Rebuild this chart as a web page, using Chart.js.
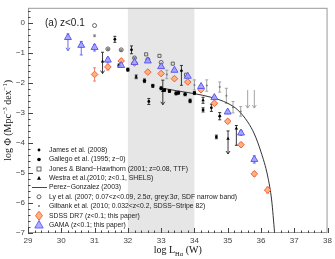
<!DOCTYPE html>
<html>
<head>
<meta charset="utf-8">
<script src="https://cdn.jsdelivr.net/npm/chart.js@4.4.1/dist/chart.umd.min.js"></script>
<style>
  html, body { margin: 0; padding: 0; background: #fff; }
</style>
</head>
<body>
<canvas id="lf" width="335" height="259"></canvas>
<script>
// axis ticks
const xTicks = [29, 30, 31, 32, 33, 34, 35, 36, 37, 38];
const yTicks = [0, -1, -2, -3, -4, -5, -6, -7];
const bandRange = [32, 34];

// GAMA (blue triangles)
const gamaX = [30.2, 30.6, 31.0, 31.4, 31.8, 32.2, 32.6, 33.0, 33.4, 33.8, 34.2, 34.6, 35.0, 35.4, 35.8];
const gamaY = [-0.49, -0.75, -0.82, -1.24, -1.42, -1.32, -1.27, -1.46, -1.58, -1.78, -2.12, -2.49, -2.97, -3.67, -4.55];
const gamaUp = [0.12, 0.13, 0.1, 0.07, 0.05, 0.04, 0.04, 0.04, 0.04, 0.04, 0.04, 0.05, 0.06, 0.08, 0.12];
const gamaDn = [0.44, 0.32, 0.12, 0.07, 0.05, 0.04, 0.04, 0.04, 0.04, 0.04, 0.04, 0.05, 0.06, 0.08, 0.12];
const gamaArrow = [1, 0, 0, 0, 0, 0, 0, 0, 0, 0, 0, 0, 0, 0, 0];

// SDSS DR7 (orange diamonds)
const sdssX = [31.0, 31.4, 31.8, 32.2, 32.6, 33.0, 33.4, 33.8, 34.2, 34.6, 35.0, 35.4, 35.8, 36.2];
const sdssY = [-1.72, -1.47, -1.27, -1.34, -1.64, -1.69, -1.86, -1.97, -2.23, -2.68, -3.28, -4.06, -5.03, -5.57];
const sdssErr = [0.22, 0.1, 0.06, 0.05, 0.05, 0.05, 0.05, 0.05, 0.05, 0.05, 0.06, 0.07, 0.08, 0.1];

// Ly et al. (2007) open circles and grey 3-sigma limits
const lyX = [31.0, 31.4, 31.8, 32.2, 32.6, 33.0];
const lyY = [-0.09, -0.87, -0.9, -1.17, -1.22, -1.32];
const lyLimX = [35.6, 35.8];
const lyLimTop = [-2.24, -2.24];
const lyLimBot = [-2.84, -2.84];

// Gilbank et al. (2010) small grey points
const gilX = [31.0, 31.4, 31.8, 32.2, 33.17, 34.0, 34.37, 34.76, 34.96, 35.16, 35.39];
const gilY = [-0.43, -0.88, -0.91, -1.18, -1.72, -2.07, -2.09, -2.14, -2.43, -2.81, -2.95];
const gilErr = [0.03, 0.03, 0.03, 0.03, 0.14, 0.17, 0.19, 0.17, 0.25, 0.19, 0.16];

// Jones & Bland-Hawthorn (2001) open squares
const jonesX = [32.55, 32.95, 33.35, 33.75];
const jonesY = [-1.05, -1.1, -1.36, -1.73];

// James et al. (2008) small black points
const jamesX = [31.61, 32.11, 32.63, 33.61, 34.26, 34.51, 34.66, 34.76];
const jamesY = [-0.55, -0.9, -2.62, -1.6, -2.9, -2.83, -3.8, -3.11];
const jamesUp = [0.1, 0.13, 0.1, 0.18, 0.07, 0.12, 0.06, 0.12];
const jamesDn = [0.1, 0.13, 0.1, 0.48, 0.07, 0.12, 0.06, 0.12];

// Gallego et al. (1995) black circles
const galX = [31.74, 32.0, 32.5, 32.75, 33.0, 33.1, 33.25, 33.45, 33.52, 33.72, 33.87, 34.0];
const galY = [-1.42, -1.56, -1.93, -2.1, -2.18, -2.24, -2.27, -2.35, -2.33, -2.38, -2.6, -2.34];
const galErr = [0.05, 0.05, 0.06, 0.05, 0.05, 0.05, 0.05, 0.05, 0.05, 0.05, 0.06, 0.05];

// Westra et al. (2010) black triangles
const westX = [31.24, 32.25, 33.05, 34.26, 35.01, 35.26];
const westY = [-1.29, -1.8, -2.27, -2.58, -3.86, -3.52];
const westUp = [0.31, 0.06, 0.36, 0.1, 0.26, 0.1];
const westDn = [0.4, 0.06, 0.46, 0.1, 0.51, 0.56];
const westArrow = [1, 0, 1, 0, 1, 0];

// Perez-Gonzalez (2003) curve
const pgX = [33.05, 33.5, 34.0, 34.5, 35.0, 35.3, 35.6, 35.8, 36.0, 36.2, 36.32, 36.41];
const pgY = [-2.18, -2.27, -2.36, -2.48, -2.68, -2.9, -3.3, -3.7, -4.3, -5.1, -5.9, -7.0];

const pts = (xs, ys) => xs.map((x, i) => ({ x: x, y: ys[i] }));

const errorSets = [
  { xs: gilX, ys: gilY, up: gilErr, dn: gilErr, color: '#999' },
  { xs: lyLimX, ys: lyLimTop, up: [0, 0], dn: lyLimTop.map((t, i) => t - lyLimBot[i]), arrow: [1, 1], color: '#999' },
  { xs: jamesX, ys: jamesY, up: jamesUp, dn: jamesDn, color: '#222' },
  { xs: galX, ys: galY, up: galErr, dn: galErr, color: '#222' },
  { xs: westX, ys: westY, up: westUp, dn: westDn, arrow: westArrow, color: '#222' },
  { xs: sdssX, ys: sdssY, up: sdssErr, dn: sdssErr, color: '#f07060' },
  { xs: gamaX, ys: gamaY, up: gamaUp, dn: gamaDn, arrow: gamaArrow, color: '#5a5af0' }
];

const legendItems = [
  { text: 'James et al. (2008)', m: 'dot' },
  { text: 'Gallego et al. (1995; z~0)', m: 'bigdot' },
  { text: 'Jones & Bland\u2212Hawthorn (2001; z=0.08, TTF)', m: 'square' },
  { text: 'Westra et al.(2010; z<0.1, SHELS)', m: 'tri' },
  { text: 'Perez\u2212Gonzalez (2003)', m: 'line' },
  { text: 'Ly et al. (2007; 0.07<z<0.09, 2.5\u03c3, grey:3\u03c3, SDF narrow band)', m: 'circle' },
  { text: 'Gilbank et al. (2010; 0.032<z<0.2, SDSS\u2212Stripe 82)', m: 'grey' },
  { text: 'SDSS DR7 (z<0.1; this paper)', m: 'diamond' },
  { text: 'GAMA (z<0.1; this paper)', m: 'gama' }
];

const decor = {
  id: 'decor',
  beforeDatasetsDraw(chart) {
    const { ctx, chartArea: a, scales: { x, y } } = chart;
    ctx.save();
    ctx.fillStyle = '#e6e6e6';
    const b0 = x.getPixelForValue(bandRange[0]), b1 = x.getPixelForValue(bandRange[1]);
    ctx.fillRect(b0, a.top, b1 - b0, a.bottom - a.top);
    ctx.lineWidth = 0.9;
    errorSets.forEach(s => {
      ctx.strokeStyle = s.color;
      s.xs.forEach((xv, i) => {
        const px = x.getPixelForValue(xv);
        const top = y.getPixelForValue(s.ys[i] + s.up[i]);
        const bot = y.getPixelForValue(s.ys[i] - s.dn[i]);
        ctx.beginPath();
        ctx.moveTo(px, top); ctx.lineTo(px, bot);
        if (s.up[i] > 0) { ctx.moveTo(px - 1.5, top); ctx.lineTo(px + 1.5, top); }
        if (s.arrow && s.arrow[i]) {
          ctx.moveTo(px - 2, bot - 3); ctx.lineTo(px, bot); ctx.lineTo(px + 2, bot - 3);
        } else {
          ctx.moveTo(px - 1.5, bot); ctx.lineTo(px + 1.5, bot);
        }
        ctx.stroke();
      });
    });
    ctx.restore();
  },
  afterDraw(chart) {
    const { ctx, chartArea: a, scales: { x, y } } = chart;
    ctx.save();
    // frame
    ctx.strokeStyle = '#999';
    ctx.lineWidth = 1;
    ctx.strokeRect(a.left + 0.5, a.top + 0.5, a.right - a.left - 1, a.bottom - a.top - 1);
    // inner ticks
    ctx.strokeStyle = '#444';
    ctx.beginPath();
    for (let v = 29; v <= 38.001; v += 0.2) {
      const px = Math.round(x.getPixelForValue(v)) + 0.5;
      const major = Math.abs(v - Math.round(v)) < 1e-6;
      ctx.moveTo(px, a.bottom); ctx.lineTo(px, a.bottom - (major ? 5 : 2.5));
    }
    for (let v = -7; v <= 0.5001; v += 0.2) {
      const py = Math.round(y.getPixelForValue(v)) + 0.5;
      const major = Math.abs(v - Math.round(v)) < 1e-6;
      ctx.moveTo(a.left, py); ctx.lineTo(a.left + (major ? 5 : 2.5), py);
    }
    ctx.stroke();

    // panel label
    ctx.fillStyle = '#222';
    ctx.font = '10px "Liberation Sans"';
    ctx.textBaseline = 'alphabetic';
    ctx.fillText('(a) z<0.1', 45, 26);

    // legend
    const lx = 39, tx = 49;
    const rows = [150, 159.5, 169, 178.3, 187.5, 196.8, 206, 215.7, 225];
    ctx.font = '6.8px "Liberation Sans"';
    ctx.textBaseline = 'middle';
    legendItems.forEach((it, i) => {
      const ry = rows[i];
      ctx.fillStyle = '#222';
      ctx.fillText(it.text, tx, ry);
      ctx.lineWidth = 0.9;
      if (it.m === 'dot' || it.m === 'bigdot') {
        ctx.beginPath(); ctx.arc(lx, ry, it.m === 'dot' ? 1.4 : 1.8, 0, Math.PI * 2); ctx.fillStyle = '#000'; ctx.fill();
      } else if (it.m === 'square') {
        ctx.strokeStyle = '#555'; ctx.strokeRect(lx - 2, ry - 2, 4, 4);
      } else if (it.m === 'tri') {
        ctx.beginPath(); ctx.moveTo(lx, ry - 2.2); ctx.lineTo(lx + 2, ry + 1.5); ctx.lineTo(lx - 2, ry + 1.5); ctx.closePath(); ctx.fillStyle = '#000'; ctx.fill();
      } else if (it.m === 'line') {
        ctx.strokeStyle = '#333'; ctx.beginPath(); ctx.moveTo(lx - 7, ry); ctx.lineTo(tx - 2, ry); ctx.stroke();
      } else if (it.m === 'circle') {
        ctx.strokeStyle = '#555'; ctx.beginPath(); ctx.arc(lx, ry, 2, 0, Math.PI * 2); ctx.stroke();
      } else if (it.m === 'grey') {
        ctx.beginPath(); ctx.arc(lx, ry, 1, 0, Math.PI * 2); ctx.fillStyle = '#777'; ctx.fill();
      } else if (it.m === 'diamond') {
        ctx.beginPath(); ctx.moveTo(lx, ry - 4.5); ctx.lineTo(lx + 3.5, ry); ctx.lineTo(lx, ry + 4.5); ctx.lineTo(lx - 3.5, ry); ctx.closePath();
        ctx.fillStyle = '#ffb27a'; ctx.fill(); ctx.strokeStyle = '#f06040'; ctx.stroke();
      } else if (it.m === 'gama') {
        ctx.beginPath(); ctx.moveTo(lx, ry - 4.5); ctx.lineTo(lx + 4.2, ry + 3); ctx.lineTo(lx - 4.2, ry + 3); ctx.closePath();
        ctx.fillStyle = 'rgba(165,165,255,0.9)'; ctx.fill(); ctx.strokeStyle = '#5a5af0'; ctx.stroke();
      }
    });

    // axis titles
    ctx.fillStyle = '#111';
    ctx.textBaseline = 'alphabetic';
    const big = '10px "Liberation Serif"', small = '6.5px "Liberation Serif"';
    // x title: log L_Ha (W)
    const xs = [['log L', big, 0], ['H\u03b1', small, 3], [' (W)', big, 0]];
    let w = 0;
    xs.forEach(s => { ctx.font = s[1]; w += ctx.measureText(s[0]).width; });
    let cx = (a.left + a.right) / 2 - w / 2;
    xs.forEach(s => { ctx.font = s[1]; ctx.fillText(s[0], cx, 253 + s[2]); cx += ctx.measureText(s[0]).width; });
    // y title: log Phi (Mpc^-3 dex^-1)
    const ys = [['log \u03a6 (Mpc', big, 0], ['\u22123', small, -4], [' dex', big, 0], ['\u22121', small, -4], [')', big, 0]];
    w = 0;
    ys.forEach(s => { ctx.font = s[1]; w += ctx.measureText(s[0]).width; });
    ctx.translate(11, (a.top + a.bottom) / 2);
    ctx.rotate(-Math.PI / 2);
    cx = -w / 2;
    ys.forEach(s => { ctx.font = s[1]; ctx.fillText(s[0], cx, s[2]); cx += ctx.measureText(s[0]).width; });
    ctx.restore();
  }
};

const tickFont = { family: 'Liberation Sans', size: 8 };

new Chart(document.getElementById('lf'), {
  type: 'scatter',
  data: {
    datasets: [
      { label: 'GAMA', data: pts(gamaX, gamaY), pointStyle: 'triangle', pointRadius: 4,
        backgroundColor: 'rgba(165,165,255,0.9)', borderColor: '#5a5af0', borderWidth: 1, order: 1 },
      { label: 'SDSS DR7', data: pts(sdssX, sdssY), pointStyle: 'rectRot', pointRadius: 3.3,
        backgroundColor: '#ffb27a', borderColor: '#f06040', borderWidth: 1, order: 2 },
      { label: 'Jones', data: pts(jonesX, jonesY), pointStyle: 'rect', pointRadius: 2.2,
        backgroundColor: 'rgba(0,0,0,0)', borderColor: '#555', borderWidth: 0.9, order: 3 },
      { label: 'Ly', data: pts(lyX, lyY), pointStyle: 'circle', pointRadius: 2,
        backgroundColor: 'rgba(0,0,0,0)', borderColor: '#555', borderWidth: 0.9, order: 4 },
      { label: 'Gilbank', data: pts(gilX, gilY), pointStyle: 'circle', pointRadius: 1,
        backgroundColor: '#777', borderWidth: 0, order: 5 },
      { label: 'James', data: pts(jamesX, jamesY), pointStyle: 'circle', pointRadius: 1.4,
        backgroundColor: '#000', borderWidth: 0, order: 6 },
      { label: 'Gallego', data: pts(galX, galY), pointStyle: 'circle', pointRadius: 1.8,
        backgroundColor: '#000', borderWidth: 0, order: 7 },
      { label: 'Westra', data: pts(westX, westY), pointStyle: 'triangle', pointRadius: 2,
        backgroundColor: '#000', borderWidth: 0, order: 8 },
      { label: 'Perez-Gonzalez', data: pts(pgX, pgY), type: 'line', showLine: true, pointRadius: 0,
        borderColor: '#333', borderWidth: 1, cubicInterpolationMode: 'monotone', order: 9 }
    ]
  },
  options: {
    responsive: false,
    animation: false,
    layout: { padding: { top: 5, right: 7, left: 0, bottom: 0 } },
    plugins: { legend: { display: false }, tooltip: { enabled: false } },
    scales: {
      x: {
        type: 'linear', min: 29, max: 38,
        afterBuildTicks: s => { s.ticks = xTicks.map(v => ({ value: v })); },
        afterFit: s => { s.height = 26; },
        grid: { display: false, drawTicks: false }, border: { display: false },
        ticks: { font: tickFont, color: '#444', padding: 3, maxRotation: 0 }
      },
      y: {
        type: 'linear', min: -7, max: 0.5,
        afterBuildTicks: s => { s.ticks = yTicks.map(v => ({ value: v })); },
        afterFit: s => { s.width = 28; },
        grid: { display: false, drawTicks: false }, border: { display: false },
        ticks: { font: tickFont, color: '#444', padding: 3, callback: v => String(v).replace('-', '\u2212') }
      }
    }
  },
  plugins: [decor]
});
</script>
</body>
</html>
